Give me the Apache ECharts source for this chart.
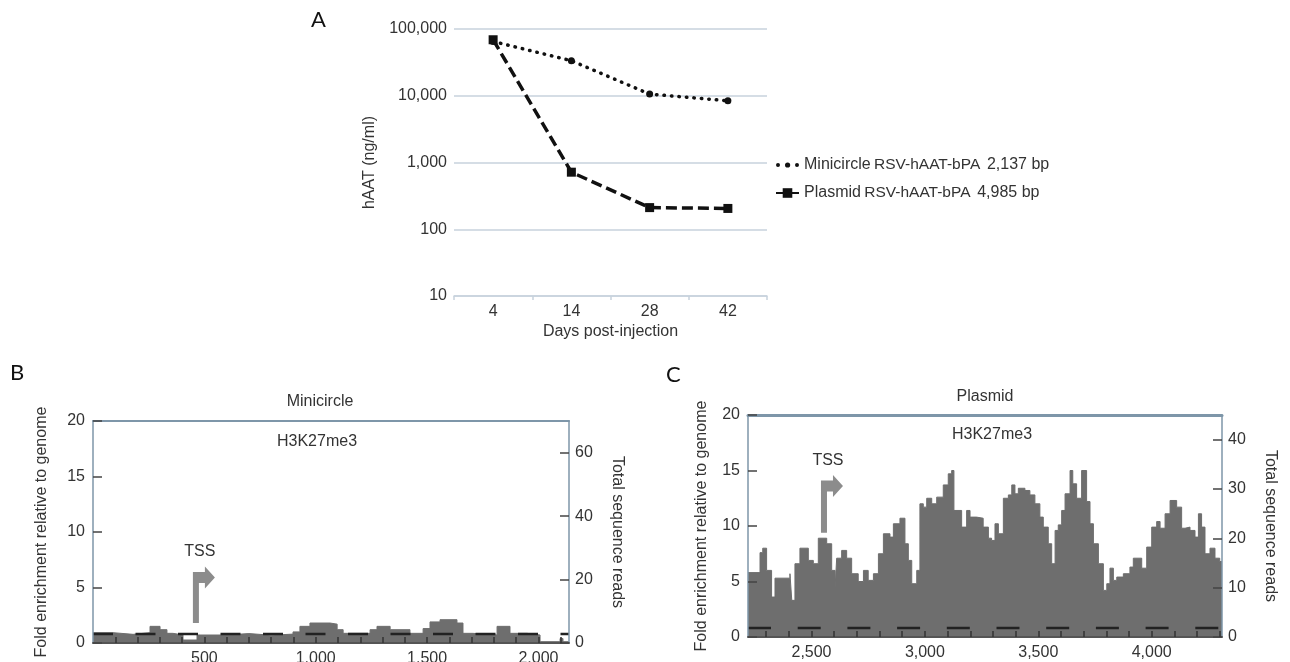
<!DOCTYPE html>
<html><head><meta charset="utf-8">
<script src="https://cdn.jsdelivr.net/npm/echarts@6/dist/echarts.min.js"></script>
<style>html,body{margin:0;padding:0;background:#fff}#c{width:1290px;height:662px}</style>
</head><body><div id="c"></div>
<script>
// ---------- Panel A ----------
const days = ['4', '14', '28', '42'];
const minicircleHAAT = [65000, 33500, 10600, 8400];
const plasmidHAAT = [69000, 716, 211, 205];
const legendNames = ['Minicircle', 'Plasmid'];
const legendConstructs = ['RSV-hAAT-bPA', 'RSV-hAAT-bPA'];
const legendSizes = ['2,137 bp', '4,985 bp'];

// ---------- Panel B (minicircle) ----------
const minicircleRange = [0, 2137];
const minicircleXLabels = [500, 1000, 1500, 2000];
const minicircleXTicks = [100, 200, 300, 400, 500, 600, 700, 800, 900, 1000, 1100, 1200, 1300, 1400, 1500, 1600, 1700, 1800, 1900, 2000, 2100];
const minicircleReadsTicks = [0, 20, 40, 60];
const minicircleReadsMax = 70;
const minicircleFold = [
  [0, 0.93], [90, 0.78], [180, 0.93], [256, 1.5], [301, 1.2], [332, 0.87], [359, 0.72],
  [404, 0.27], [467, 0.72], [600, 0.85], [700, 0.7], [800, 0.8], [898, 1.0], [929, 1.5],
  [974, 1.8], [1064, 1.7], [1096, 1.2], [1123, 0.87], [1244, 1.2], [1275, 1.5], [1334, 1.2],
  [1423, 0.87], [1482, 1.3], [1513, 1.9], [1558, 2.1], [1634, 1.8], [1661, 0.87], [1706, 0.72],
  [1814, 1.5], [1872, 0.87], [1949, 0.72], [2007, 0.12], [2097, 0.4], [2110, 0.12], [2137, 0.12]
];
const minicircleBaseline = 0.8;
const minicircleTSS = [[462, 1.8, 6.4]];

// ---------- Panel C (plasmid) ----------
const plasmidRange = [2220, 4310];
const plasmidXLabels = [2500, 3000, 3500, 4000];
const plasmidXTicks = [2300, 2400, 2500, 2600, 2700, 2800, 2900, 3000, 3100, 3200, 3300, 3400, 3500, 3600, 3700, 3800, 3900, 4000, 4100, 4200, 4300];
const plasmidReadsTicks = [0, 10, 20, 30, 40];
const plasmidReadsMax = 45;
const plasmidFold = [
  [2220, 5.8], [2273, 7.6], [2285, 8.0], [2302, 6.0], [2324, 3.6], [2339, 5.3], [2405, 5.7],
  [2413, 3.3], [2427, 6.6], [2449, 8.0], [2486, 6.9], [2508, 6.6], [2530, 8.9], [2567, 8.4],
  [2589, 6.0], [2604, 4.4], [2611, 7.1], [2633, 7.8], [2655, 7.1], [2677, 5.7], [2706, 5.0],
  [2729, 6.0], [2750, 5.1], [2773, 5.7], [2795, 7.5], [2817, 9.3], [2846, 9.0], [2861, 10.2],
  [2890, 10.7], [2912, 8.4], [2927, 6.9], [2942, 4.8], [2964, 6.0], [2978, 12.0], [2993, 11.7],
  [3008, 12.5], [3030, 12.0], [3052, 12.6], [3081, 13.7], [3103, 14.7], [3118, 15.0], [3128, 11.4],
  [3162, 9.9], [3184, 11.4], [3199, 10.8], [3228, 10.7], [3257, 9.9], [3280, 8.9], [3294, 8.7],
  [3309, 10.2], [3324, 9.3], [3346, 12.5], [3368, 12.8], [3383, 13.7], [3397, 12.9], [3412, 13.4],
  [3441, 13.2], [3463, 12.8], [3485, 12.0], [3507, 10.8], [3522, 9.9], [3544, 8.4], [3559, 6.6],
  [3574, 9.6], [3588, 10.1], [3603, 11.4], [3618, 12.9], [3640, 15.0], [3652, 13.8], [3669, 12.5],
  [3691, 15.0], [3713, 12.2], [3728, 10.2], [3743, 8.4], [3765, 6.6], [3787, 4.2], [3802, 4.8],
  [3816, 6.2], [3831, 5.1], [3846, 5.4], [3875, 5.7], [3904, 6.3], [3919, 7.1], [3956, 6.2],
  [3978, 8.1], [4000, 9.9], [4022, 10.4], [4037, 9.8], [4059, 11.1], [4081, 12.3], [4110, 11.7],
  [4132, 9.8], [4147, 9.9], [4169, 9.6], [4191, 9.0], [4206, 11.1], [4220, 9.9], [4235, 7.5],
  [4257, 8.0], [4279, 7.1], [4300, 6.8], [4310, 6.8]
];
const plasmidBaseline = 0.8;
const plasmidTSS = [[2555, 9.4, 14.1]];

const foldTicks = [0, 5, 10, 15, 20];

// ---------- styling ----------
const FONT = 'Liberation Sans, Arial, sans-serif';
const TXT = '#333';
const FRAME = '#7e96a9';
const GRIDA = '#c7d2dd';
const FILL = '#6e6e6e';
const ARROW = '#8c8c8c';
const DOTS_ICON = 'path://M0,5a2,2 0 1,0 4,0a2,2 0 1,0 -4,0M9,5a2.6,2.6 0 1,0 5.2,0a2.6,2.6 0 1,0 -5.2,0M19,5a2,2 0 1,0 4,0a2,2 0 1,0 -4,0';
const fmt = v => Number(v).toLocaleString('en-US');

function tssRender(params, api) {
  const x = api.value(0), y0 = api.value(1), y1 = api.value(2);
  const pb = api.coord([x, y0]);
  const pt = api.coord([x, y1]);
  const sw = 6, armT = 11, headH = 11, headBase = 12, tip = 22;
  const L = pt[0] - sw / 2, T = pt[1], mid = T + armT / 2;
  const pts = [[L, pb[1]], [L, T], [L + headBase, T], [L + headBase, mid - headH], [L + tip, mid],
    [L + headBase, mid + headH], [L + headBase, T + armT], [L + sw, T + armT], [L + sw, pb[1]]];
  return {
    type: 'group', children: [
      { type: 'polygon', shape: { points: pts }, style: { fill: ARROW } },
      { type: 'text', style: { text: 'TSS', x: pt[0] + 4, y: T - 20, align: 'center', verticalAlign: 'middle',
        font: '16px ' + FONT, fill: TXT } }
    ]
  };
}

function bottomX(gridIndex, range, labels, ticks) {
  return {
    type: 'value', gridIndex, position: 'bottom', min: range[0], max: range[1], z: 5,
    axisLine: { show: true, onZero: false, lineStyle: { color: '#555', width: 2 } },
    axisTick: { show: true, inside: true, length: 6, customValues: ticks, lineStyle: { color: '#333', width: 1.5 } },
    axisLabel: { customValues: labels, formatter: fmt, fontSize: 16, color: TXT, fontFamily: FONT, margin: 8 },
    splitLine: { show: false }
  };
}
function topX(gridIndex, range, w) {
  return {
    type: 'value', gridIndex, position: 'top', min: range[0], max: range[1],
    axisLine: { show: true, onZero: false, lineStyle: { color: FRAME, width: w } },
    axisTick: { show: false }, axisLabel: { show: false }, splitLine: { show: false }
  };
}
function leftY(gridIndex, gap) {
  return {
    type: 'value', gridIndex, position: 'left', min: 0, max: 20, z: 5,
    name: 'Fold enrichment relative to genome', nameLocation: 'middle', nameRotate: 90, nameGap: gap,
    nameTextStyle: { fontSize: 16, color: TXT, fontFamily: FONT },
    axisLine: { show: true, onZero: false, lineStyle: { color: FRAME, width: 1.5 } },
    axisTick: { show: true, inside: true, length: 9, customValues: foldTicks, lineStyle: { color: '#444', width: 1.5 } },
    axisLabel: { customValues: foldTicks, fontSize: 16, color: TXT, fontFamily: FONT, margin: 8 },
    splitLine: { show: false }
  };
}
function rightY(gridIndex, max, ticks, gap) {
  return {
    type: 'value', gridIndex, position: 'right', min: 0, max: max, z: 5,
    name: 'Total sequence reads', nameLocation: 'middle', nameRotate: -90, nameGap: gap,
    nameTextStyle: { fontSize: 16, color: TXT, fontFamily: FONT },
    axisLine: { show: true, onZero: false, lineStyle: { color: FRAME, width: 1.5 } },
    axisTick: { show: true, inside: true, length: 9, customValues: ticks, lineStyle: { color: '#444', width: 1.5 } },
    axisLabel: { customValues: ticks, fontSize: 16, color: TXT, fontFamily: FONT, margin: 6 },
    splitLine: { show: false }
  };
}
const titleStyle = { fontSize: 16, fontWeight: 'normal', color: TXT, fontFamily: FONT };
const letterStyle = { fontSize: 22, fontWeight: 'normal', color: '#111', fontFamily: 'Lato, Open Sans, sans-serif' };

const chart = echarts.init(document.getElementById('c'), null, { renderer: 'canvas' });
chart.setOption({
  backgroundColor: '#fff',
  animation: false,
  textStyle: { fontFamily: FONT },
  title: [
    { text: 'A', left: 311, top: 9, padding: 0, textStyle: letterStyle },
    { text: 'B', left: 10, top: 362, padding: 0, textStyle: letterStyle },
    { text: 'C', left: 666, top: 364, padding: 0, textStyle: letterStyle },
    { text: 'Minicircle', left: 320, top: 394, textAlign: 'center', padding: 0, textStyle: titleStyle },
    { text: 'H3K27me3', left: 317, top: 434, textAlign: 'center', padding: 0, textStyle: titleStyle },
    { text: 'Plasmid', left: 985, top: 389, textAlign: 'center', padding: 0, textStyle: titleStyle },
    { text: 'H3K27me3', left: 992, top: 427, textAlign: 'center', padding: 0, textStyle: titleStyle }
  ],
  legend: {
    data: [{ name: legendNames[0], icon: DOTS_ICON }, { name: legendNames[1] }],
    orient: 'vertical', left: 775, top: 157, itemWidth: 23, itemHeight: 12, itemGap: 12,
    padding: 0,
    formatter: name => {
      const i = legendNames.indexOf(name);
      return '{n|' + name + '} {c|' + legendConstructs[i] + '}  {s|' + legendSizes[i] + '}';
    },
    textStyle: {
      color: TXT, fontFamily: FONT,
      rich: { n: { fontSize: 16, color: TXT }, c: { fontSize: 15.5, color: TXT }, s: { fontSize: 16, color: TXT } }
    }
  },
  grid: [
    { left: 454, top: 29, width: 313, height: 267, outerBoundsMode: 'none' },
    { left: 93, top: 421, width: 476, height: 222, outerBoundsMode: 'none' },
    { left: 748, top: 415, width: 474, height: 222, outerBoundsMode: 'none' }
  ],
  xAxis: [
    {
      type: 'category', gridIndex: 0, data: days, boundaryGap: true,
      name: 'Days post-injection', nameLocation: 'middle', nameGap: 28,
      nameTextStyle: { fontSize: 16, color: TXT, fontFamily: FONT },
      axisLine: { show: true, onZero: false, lineStyle: { color: GRIDA, width: 1.5 } },
      axisTick: { show: true, length: 4, lineStyle: { color: GRIDA, width: 1.5 } },
      axisLabel: { fontSize: 16, color: TXT, fontFamily: FONT, margin: 8 }
    },
    bottomX(1, minicircleRange, minicircleXLabels, minicircleXTicks),
    topX(1, minicircleRange, 2),
    bottomX(2, plasmidRange, plasmidXLabels, plasmidXTicks),
    topX(2, plasmidRange, 3)
  ],
  yAxis: [
    {
      type: 'log', gridIndex: 0, logBase: 10, min: 10, max: 100000,
      name: 'hAAT (ng/ml)', nameLocation: 'middle', nameRotate: 90, nameGap: 76,
      nameTextStyle: { fontSize: 16, color: TXT, fontFamily: FONT },
      axisLine: { show: false }, axisTick: { show: false },
      axisLabel: { formatter: fmt, fontSize: 16, color: TXT, fontFamily: FONT, margin: 7 },
      splitLine: { show: true, lineStyle: { color: GRIDA, width: 1.5 } }
    },
    leftY(1, 43),
    rightY(1, minicircleReadsMax, minicircleReadsTicks, 40),
    leftY(2, 38),
    rightY(2, plasmidReadsMax, plasmidReadsTicks, 40)
  ],
  series: [
    {
      name: 'Minicircle', type: 'line', xAxisIndex: 0, yAxisIndex: 0, data: minicircleHAAT,
      symbol: 'circle', symbolSize: 7, itemStyle: { color: '#111' },
      lineStyle: { color: '#111', width: 3.5, type: [0.5, 7], cap: 'round' }
    },
    {
      name: 'Plasmid', type: 'line', xAxisIndex: 0, yAxisIndex: 0, data: plasmidHAAT,
      symbol: 'rect', symbolSize: 9, itemStyle: { color: '#111' },
      lineStyle: { color: '#111', width: 3.5, type: [11, 5] }
    },
    {
      name: 'Minicircle H3K27me3', type: 'line', xAxisIndex: 1, yAxisIndex: 1, data: minicircleFold,
      step: 'end', symbol: 'none', lineStyle: { color: FILL, width: 1 },
      areaStyle: { color: FILL, opacity: 1 }, z: 2
    },
    {
      name: 'Minicircle baseline', type: 'line', xAxisIndex: 1, yAxisIndex: 1,
      data: [[minicircleRange[0], minicircleBaseline], [minicircleRange[1], minicircleBaseline]],
      symbol: 'none', lineStyle: { color: '#222', width: 2.5, type: [20, 22.5] }, z: 3
    },
    {
      name: 'Minicircle TSS', type: 'custom', xAxisIndex: 1, yAxisIndex: 1, data: minicircleTSS,
      renderItem: tssRender, z: 4
    },
    {
      name: 'Plasmid H3K27me3', type: 'line', xAxisIndex: 3, yAxisIndex: 3, data: plasmidFold,
      step: 'end', symbol: 'none', lineStyle: { color: FILL, width: 1 },
      areaStyle: { color: FILL, opacity: 1 }, z: 2
    },
    {
      name: 'Plasmid baseline', type: 'line', xAxisIndex: 3, yAxisIndex: 3,
      data: [[plasmidRange[0], plasmidBaseline], [plasmidRange[1], plasmidBaseline]],
      symbol: 'none', lineStyle: { color: '#222', width: 2.5, type: [23, 26.7] }, z: 3
    },
    {
      name: 'Plasmid TSS', type: 'custom', xAxisIndex: 3, yAxisIndex: 3, data: plasmidTSS,
      renderItem: tssRender, z: 4
    }
  ]
});
</script></body></html>
